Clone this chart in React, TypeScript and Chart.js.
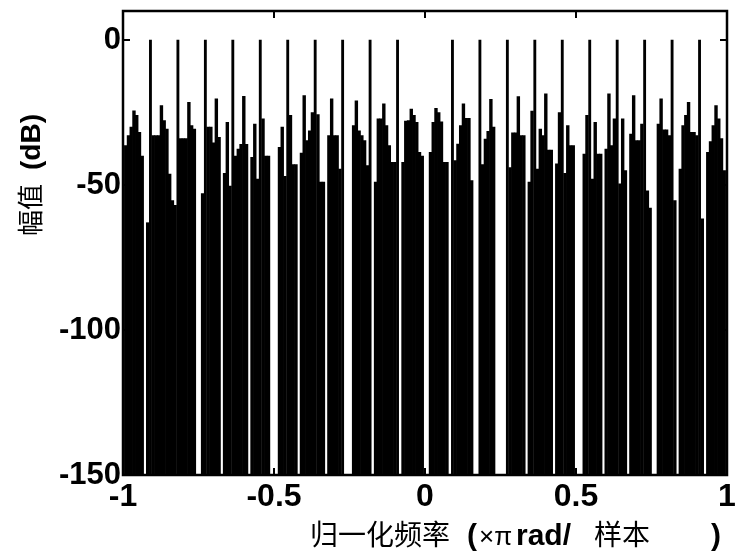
import React, { useEffect, useRef } from 'react';
import { Chart, registerables } from 'chart.js';

Chart.register(...registerables);

// Axis ranges and tick labels
const xTicks = [-1, -0.5, 0, 0.5, 1];
const yTicks = [-150, -100, -50, 0];
const yMin = -150;
const yMax = 10;

// Tone lines (0 dB) every 1/11 (×π rad/sample), the one at 0 is absent
const toneSpacing = 1 / 11;
const binsPerTone = 10;
const toneIndices = [-10, -9, -8, -7, -6, -5, -4, -3, -2, -1, 1, 2, 3, 4, 5, 6, 7, 8, 9, 10];
const toneDb = [0, 0, 0, 0, 0, 0, 0, 0, 0, 0, 0, 0, 0, 0, 0, 0, 0, 0, 0, 0];

// Spectrum bins between consecutive tone lines (9 bins per lobe, dB, null = no energy)
const firstLobe = -11;
const lobeDb: (number | null)[][] = [
  [-36.4, -33, -30, -24.4, -26, -31.8, -40, null, -63],
  [-33, -33, -33, -22.6, -27.8, -30.7, -46.2, -55.4, -57],
  [-34, -34, -34, -21.5, -29.5, -30.7, null, null, -53],
  [-30, -30, -35.5, -20.3, -33.6, null, -46, -28.4, -50.4],
  [-40, -37.6, -36, -19.4, -36, null, -40.5, -29, -48],
  [-27.2, -40, -40, null, null, null, -37, -30, -47],
  [-26, -43, -43, null, -39, -19.2, -34.7, -31.3, -25],
  [-25.7, -49, -49, null, -33, -20.3, -33, -33, -44.5],
  [null, null, null, -29.5, -21, -31.3, -33, -34.7, -43.3],
  [null, -49, -27.2, -27.2, -22, -29.5, -36.4, -42.2, -42.2],
  [null, -42.2, -28, -27.8, -23.8, -26, -28.4, -38.7, -40],
  [null, -38.7, -28.4, -23.6, -25, -28.2, -42.2, -42.2, null],
  [-41.6, -35.9, -29.5, -22, -27, -27, -48.5, null, null],
  [-43, -34.2, -31.5, -20.5, -30, null, null, null, null],
  [-44, -32, -32, -19.5, -33, -33, null, -49, -24.5],
  [-44.5, -30.7, -33, -18.6, -38, -38, null, -42.7, -25],
  [-46, -29.5, -36.4, -36.4, null, null, null, -39.3, -26],
  [-48, -28.4, -39.3, -39.3, null, -37.6, -18.6, -36.4, -27.2],
  [-49.6, -27.2, -45, null, -32.4, -19.2, -34.7, -34.7, -29],
  [-52, -58, null, null, -29, -20.3, -31, -31, -33],
  [-55.4, null, -44.5, -29.5, -26, -21.5, -31.8, -31.8, -33],
  [-61.7, null, -38.7, -35, -29.5, -22.6, -27.2, -34, -45],
];

const FONT_BOLD = '"Liberation Sans", Arial, sans-serif';
const FONT_CJK = '"Noto Sans CJK SC", sans-serif';

const framePlugin = {
  id: 'matlabFrame',
  afterDraw(chart: any) {
    const { ctx, chartArea } = chart;
    const { left, right, top, bottom } = chartArea;
    const xs = chart.scales.x;
    const ys = chart.scales.y;
    ctx.save();
    ctx.strokeStyle = '#000';
    ctx.lineWidth = 2.5;
    ctx.strokeRect(left, top, right - left, bottom - top);
    ctx.lineWidth = 2;
    const tl = 7;
    ctx.beginPath();
    xTicks.forEach((v) => {
      const px = xs.getPixelForValue(v);
      ctx.moveTo(px, bottom);
      ctx.lineTo(px, bottom - tl);
      ctx.moveTo(px, top);
      ctx.lineTo(px, top + tl);
    });
    yTicks.forEach((v) => {
      const py = ys.getPixelForValue(v);
      ctx.moveTo(left, py);
      ctx.lineTo(left + tl, py);
      ctx.moveTo(right, py);
      ctx.lineTo(right - tl, py);
    });
    ctx.stroke();

    // axis titles
    ctx.fillStyle = '#000';
    ctx.textBaseline = 'alphabetic';
    ctx.textAlign = 'left';
    const by = 545;
    ctx.font = `400 28px ${FONT_CJK}`;
    ctx.fillText('归一化频率', 310, by);
    ctx.font = `bold 30px ${FONT_BOLD}`;
    ctx.fillText('(', 467, by);
    ctx.font = `400 26px ${FONT_BOLD}`;
    ctx.fillText('×π', 479, by);
    ctx.font = `bold 30px ${FONT_BOLD}`;
    ctx.fillText('rad/', 516, by);
    ctx.font = `400 28px ${FONT_CJK}`;
    ctx.fillText('样本', 594, by);
    ctx.font = `bold 30px ${FONT_BOLD}`;
    ctx.fillText(')', 711, by);

    ctx.translate(40, 236);
    ctx.rotate(-Math.PI / 2);
    ctx.font = `400 26px ${FONT_CJK}`;
    ctx.fillText('幅值', 0, 0);
    ctx.font = `bold 28px ${FONT_BOLD}`;
    ctx.fillText('(dB)', 66, 0);
    ctx.restore();
  },
};

export default function App() {
  const canvasRef = useRef<HTMLCanvasElement | null>(null);

  useEffect(() => {
    document.body.style.margin = '0';
    const canvas = canvasRef.current;
    if (!canvas) return;

    const binPoints: { x: number; y: number }[] = [];
    lobeDb.forEach((arr, i) => {
      const lobe = firstLobe + i;
      arr.forEach((v, j) => {
        if (v !== null) binPoints.push({ x: (lobe + (j + 1) / binsPerTone) * toneSpacing, y: v });
      });
    });
    const tonePoints = toneIndices.map((k, i) => ({ x: k * toneSpacing, y: toneDb[i] }));

    const chart = new Chart(canvas, {
      type: 'bar',
      data: {
        datasets: [
          {
            label: 'spectrum',
            data: binPoints as any,
            backgroundColor: '#000',
            borderWidth: 0,
            base: yMin,
            barPercentage: 1,
            categoryPercentage: 1,
            grouped: false,
          } as any,
          {
            label: 'tones',
            data: tonePoints as any,
            backgroundColor: '#000',
            borderWidth: 0,
            base: yMin,
            barThickness: 2.2,
            grouped: false,
          } as any,
        ],
      },
      options: {
        animation: false,
        responsive: false,
        devicePixelRatio: 1,
        layout: { padding: { top: 11, right: 14, left: 0, bottom: 0 } },
        plugins: { legend: { display: false }, tooltip: { enabled: false } },
        scales: {
          x: {
            type: 'linear',
            min: -1,
            max: 1,
            offset: false,
            grid: { display: false, drawTicks: false },
            border: { display: false },
            afterBuildTicks: (s: any) => {
              s.ticks = xTicks.map((v) => ({ value: v }));
            },
            afterFit: (s: any) => {
              s.height = 84;
              s.paddingLeft = 0;
              s.paddingRight = 0;
            },
            ticks: {
              color: '#000',
              padding: 3,
              maxRotation: 0,
              autoSkip: false,
              font: { family: FONT_BOLD, size: 32, weight: 'bold' },
              callback: (v: any) => String(v),
            },
          },
          y: {
            type: 'linear',
            min: yMin,
            max: yMax,
            grid: { display: false, drawTicks: false },
            border: { display: false },
            afterBuildTicks: (s: any) => {
              s.ticks = yTicks.map((v) => ({ value: v }));
            },
            afterFit: (s: any) => {
              s.width = 123;
              s.paddingTop = 0;
              s.paddingBottom = 0;
            },
            ticks: {
              color: '#000',
              padding: 2,
              autoSkip: false,
              font: { family: FONT_BOLD, size: 31, weight: 'bold' },
              callback: (v: any) => String(v),
            },
          },
        },
      },
      plugins: [framePlugin],
    });

    return () => chart.destroy();
  }, []);

  return (
    <div style={{ position: 'absolute', left: 0, top: 0, width: 741, height: 559, background: '#fff' }}>
      <canvas ref={canvasRef} width={741} height={559} />
    </div>
  );
}
